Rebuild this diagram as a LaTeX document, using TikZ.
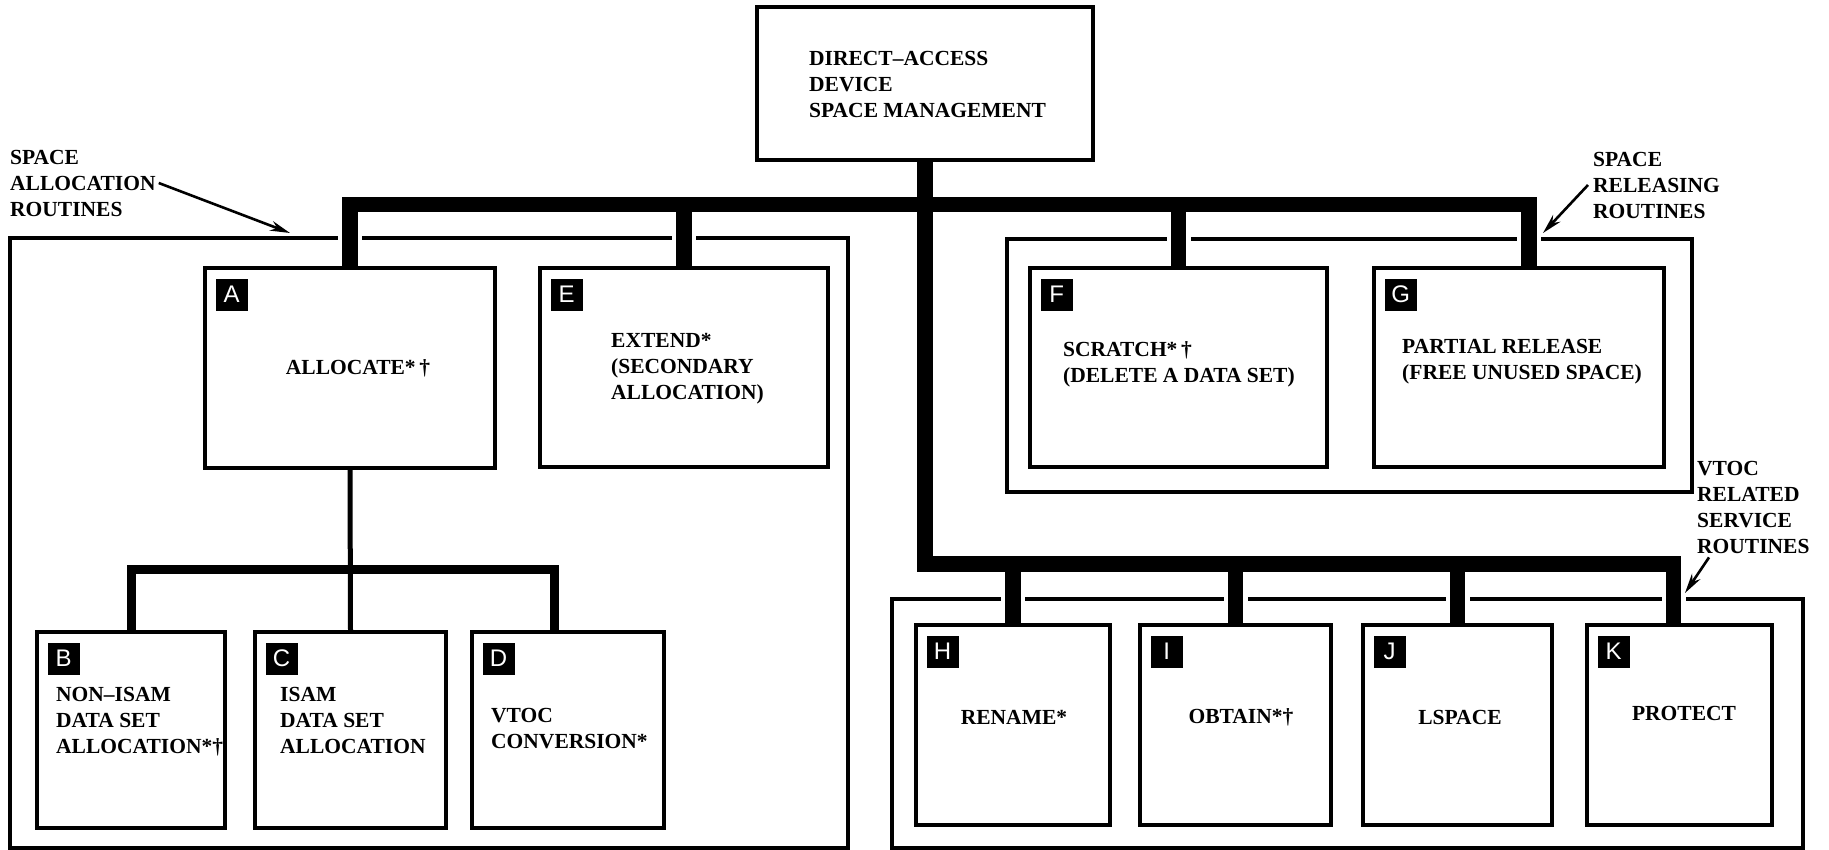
\documentclass[tikz,border=0pt]{standalone}
\usepackage{fontspec}
\setmainfont{Liberation Serif}
\newfontfamily\badgefont{Liberation Sans}
\usetikzlibrary{arrows.meta}
\pgfdeclarelayer{bg}
\pgfsetlayers{bg,main}
\begin{document}
\begin{tikzpicture}[x=1pt,y=-1pt,
  box/.style={draw, line width=3.2pt, inner sep=0pt},
  container/.style={draw, line width=3.2pt},
  txt/.style={font=\bfseries\fontsize{21.5}{26}\selectfont, inner sep=0pt, align=left},
  badge/.style={fill=black, text=white, font=\badgefont\fontsize{24}{24}\selectfont,
    minimum width=32pt, minimum height=32pt, inner sep=0pt, anchor=north west},
  bus/.style={line width=15.5pt, line join=miter},
  subbus/.style={line width=9pt, line join=miter},
  thinlink/.style={line width=5pt},
  halo/.style={white, line width=24pt},
  pointer/.style={line width=2.6pt, -{Stealth[length=20pt,width=10pt]}}]
\useasboundingbox (0,0) rectangle (1829,850);

% boxes
\node[box, minimum width=336pt, minimum height=153pt] (top) at (925,83.5) {};
\node[box, minimum width=290pt, minimum height=200pt] (A) at (350,368) {};
\node[box, minimum width=288pt, minimum height=199pt] (E) at (684,367.5) {};
\node[box, minimum width=297pt, minimum height=199pt] (F) at (1178.5,367.5) {};
\node[box, minimum width=290pt, minimum height=199pt] (G) at (1519,367.5) {};
\node[box, minimum width=188pt, minimum height=196pt] (B) at (131,730) {};
\node[box, minimum width=191pt, minimum height=196pt] (C) at (350.5,730) {};
\node[box, minimum width=192pt, minimum height=196pt] (D) at (568,730) {};
\node[box, minimum width=194pt, minimum height=200pt] (H) at (1013,725) {};
\node[box, minimum width=191pt, minimum height=200pt] (I) at (1235.5,725) {};
\node[box, minimum width=189pt, minimum height=200pt] (J) at (1457.5,725) {};
\node[box, minimum width=185pt, minimum height=200pt] (K) at (1679.5,725) {};

% letter badges
\foreach \b in {A,B,C,D,E,F,G,H,I,J,K}
  \node[badge] (badge\b) at ([shift={(12pt,-12pt)}]\b.north west) {\b};

% box texts
\node[txt, anchor=west] (ttop) at (809,84) {DIRECT--ACCESS\\DEVICE\\SPACE MANAGEMENT};
\node[txt] (tA) at (358,368) {ALLOCATE*\,†};
\node[txt, anchor=west] (tE) at (611,369) {EXTEND*\\(SECONDARY\\ALLOCATION)};
\node[txt, anchor=west] (tF) at (1063,364.5) {SCRATCH*\,†\\(DELETE A DATA SET)};
\node[txt, anchor=west] (tG) at (1402,362) {PARTIAL RELEASE\\(FREE UNUSED SPACE)};
\node[txt, anchor=west] (tB) at (56,721.5) {NON--ISAM\\DATA SET\\ALLOCATION*†};
\node[txt, anchor=west] (tC) at (280,720) {ISAM\\DATA SET\\ALLOCATION};
\node[txt, anchor=west] (tD) at (491,728.5) {VTOC\\CONVERSION*};
\node[txt] (tH) at (1014,717) {RENAME*};
\node[txt] (tI) at (1241,717) {OBTAIN*†};
\node[txt] (tJ) at (1460,717) {LSPACE};
\node[txt] (tK) at (1684,713) {PROTECT};

% group labels
\node[txt, anchor=west] (lblL) at (10,183) {SPACE\\ALLOCATION\\ROUTINES};
\node[txt, anchor=west] (lblR) at (1593,185) {SPACE\\RELEASING\\ROUTINES};
\node[txt, anchor=west] (lblV) at (1697,507) {VTOC\\RELATED\\SERVICE\\ROUTINES};

% levels of the connector bars
\coordinate (busy) at (0,204.5);
\coordinate (lowy) at (0,564);
\coordinate (midy) at (0,569.5);
\coordinate (tipL) at (290,233);
\coordinate (tipR) at (1543,233);
\coordinate (tipV) at (1685,593);

% group frames, broken where the connectors pass through
\begin{pgfonlayer}{bg}
  \draw[container] (10,238) rectangle (848,848);
  \draw[container] (1007,239) rectangle (1692,492);
  \draw[container] (892,599) rectangle (1803,848);
  \draw[halo] (A.north) -- ++(0,-45);
  \draw[halo] (E.north) -- ++(0,-45);
  \draw[halo] (F.north) -- ++(0,-45);
  \draw[halo] ([xshift=10pt]G.north) -- ++(0,-45);
  \draw[halo] (H.north) -- ++(0,-45);
  \draw[halo] (I.north) -- ++(0,-45);
  \draw[halo] (J.north) -- ++(0,-45);
  \draw[halo] ([xshift=-6pt]K.north) -- ++(0,-45);
\end{pgfonlayer}

% upper bus
\draw[bus] (A.north) -- (A.north |- busy) -- ([xshift=10pt]G.north |- busy) -- ([xshift=10pt]G.north);
\draw[bus] (E.north) -- (E.north |- busy);
\draw[bus] (F.north) -- (F.north |- busy);
% trunk and lower bus
\draw[bus] (top.south) -- (top.south |- lowy) -- ([xshift=-6pt]K.north |- lowy) -- ([xshift=-6pt]K.north);
\draw[bus] (H.north) -- (H.north |- lowy);
\draw[bus] (I.north) -- (I.north |- lowy);
\draw[bus] (J.north) -- (J.north |- lowy);
% allocation sub-tree
\draw[thinlink] (A.south) -- (C.north);
\draw[subbus] (B.north) -- (B.north |- midy) -- ([xshift=-14pt]D.north |- midy) -- ([xshift=-14pt]D.north);

% label pointers
\draw[pointer] ([xshift=3pt]lblL.east) -- (tipL);
\draw[pointer] ([xshift=-5pt]lblR.west) -- (tipR);
\draw[pointer] ([shift={(12pt,-4pt)}]lblV.south west) -- (tipV);
\end{tikzpicture}
\end{document}
